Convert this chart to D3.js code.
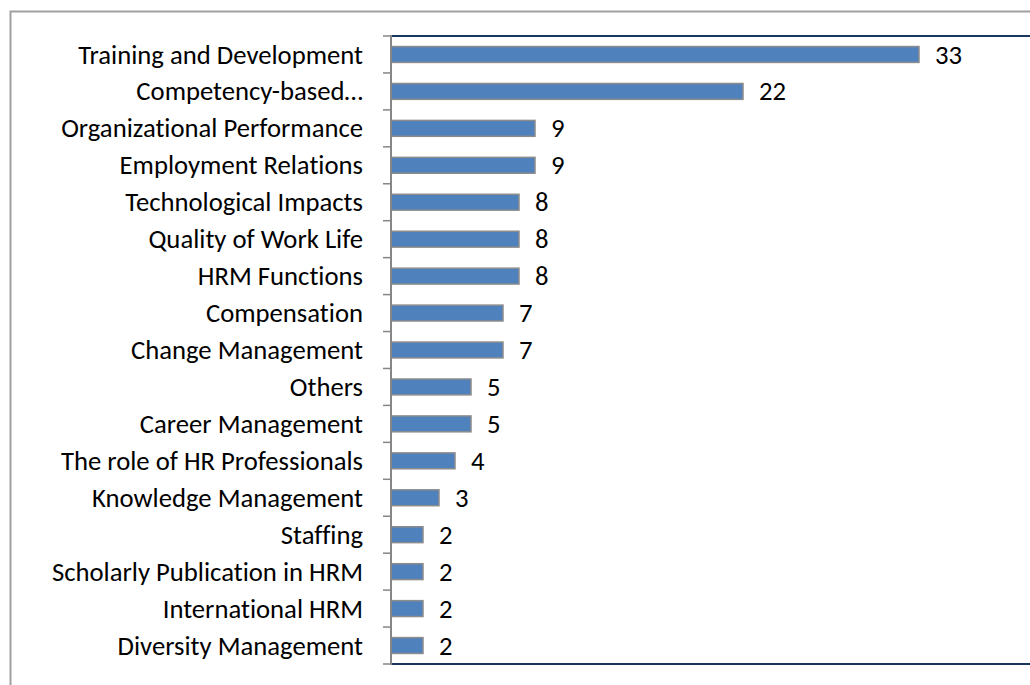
<!DOCTYPE html>
<html>
<head>
<meta charset="utf-8">
<script src="https://cdn.jsdelivr.net/npm/d3@7"></script>
<style>
  body { margin: 0; background: #fff; }
  text { font-family: Carlito, Calibri, Lato, sans-serif; fill: #000; font-variant-ligatures: none; }
</style>
</head>
<body>
<div class="canvas"></div>
<script>
// data, top to bottom
const categories = [
    'Training and Development', 'Competency-based…', 'Organizational Performance',
    'Employment Relations', 'Technological Impacts', 'Quality of Work Life',
    'HRM Functions', 'Compensation', 'Change Management', 'Others',
    'Career Management', 'The role of HR Professionals', 'Knowledge Management',
    'Staffing', 'Scholarly Publication in HRM', 'International HRM', 'Diversity Management'
];
const counts = [33, 22, 9, 9, 8, 8, 8, 7, 7, 5, 5, 4, 3, 2, 2, 2, 2];

const data = categories.map((c, i) => ({ name: c, value: counts[i] }));

// dimensions
const dims = { width: 1030, height: 685 };
const plot = { left: 391, top: 36, bottom: 664 };
const fontSize = 26.7;

const svg = d3.select('.canvas')
    .append('svg')
    .attr('width', dims.width)
    .attr('height', dims.height);

// outer chart border (cropped at right and bottom)
svg.append('rect')
    .attr('x', 10.5).attr('y', 11.5)
    .attr('width', 1100).attr('height', 800)
    .attr('fill', 'none')
    .attr('stroke', '#a0a0a0')
    .attr('stroke-width', 2);

// scales
const x = d3.scaleLinear()
    .domain([0, 40])
    .range([plot.left, plot.left + 640]);

const y = d3.scaleBand()
    .domain(categories)
    .range([plot.top, plot.bottom])
    .paddingInner(0.57)
    .paddingOuter(0.285);

// plot area top / bottom lines
[plot.top, plot.bottom].forEach(py => {
    svg.append('line')
        .attr('x1', plot.left).attr('x2', dims.width)
        .attr('y1', py).attr('y2', py)
        .attr('stroke', '#17375e')
        .attr('stroke-width', 2);
});

// bars
svg.append('g').selectAll('rect')
    .data(data)
    .enter()
    .append('rect')
        .attr('x', x(0))
        .attr('y', d => y(d.name))
        .attr('width', d => x(d.value) - x(0))
        .attr('height', y.bandwidth())
        .attr('fill', '#4f81bd')
        .attr('stroke', '#8c8c8c')
        .attr('stroke-width', 1.5);

// value labels
svg.append('g').selectAll('text')
    .data(data)
    .enter()
    .append('text')
        .attr('x', d => x(d.value) + 16)
        .attr('y', d => y(d.name) + y.bandwidth() / 2)
        .attr('dy', '0.34em')
        .attr('font-size', fontSize)
        .text(d => d.value);

// category axis
const yAxis = d3.axisLeft(y).tickSize(0).tickPadding(28);
const gy = svg.append('g')
    .attr('transform', `translate(${plot.left}, 0)`)
    .call(yAxis);
gy.select('.domain').remove();
gy.selectAll('text')
    .attr('font-size', fontSize)
    .attr('font-family', null)
    .attr('dy', '0.34em');

// axis line and ticks between categories
svg.append('line')
    .attr('x1', plot.left).attr('x2', plot.left)
    .attr('y1', plot.top - 1).attr('y2', plot.bottom + 1)
    .attr('stroke', '#868686')
    .attr('stroke-width', 2);
svg.append('g').selectAll('line')
    .data(d3.range(categories.length + 1))
    .enter()
    .append('line')
        .attr('x1', plot.left - 8).attr('x2', plot.left)
        .attr('y1', i => plot.top + i * (plot.bottom - plot.top) / categories.length)
        .attr('y2', i => plot.top + i * (plot.bottom - plot.top) / categories.length)
        .attr('stroke', '#868686')
        .attr('stroke-width', 1.5);
</script>
</body>
</html>
